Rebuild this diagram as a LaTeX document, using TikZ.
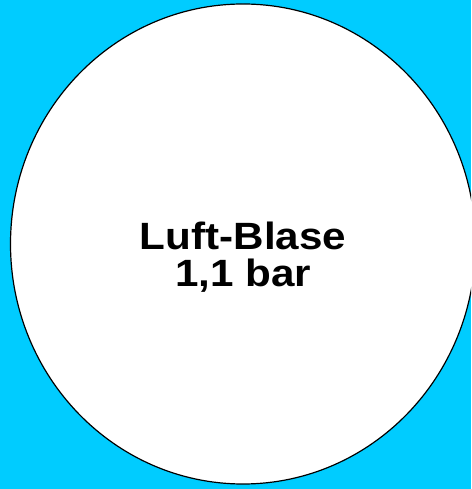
\documentclass[tikz,border=0pt]{standalone}
\usepackage{fontspec}
\setmainfont{Liberation Sans}
\usepackage{tikz}
\usetikzlibrary{positioning, calc}

\definecolor{wasser}{HTML}{00CCFF}

\begin{document}
\begin{tikzpicture}[x=1pt, y=1pt]
                % Hintergrund
                \useasboundingbox (0, 0) rectangle (471, 489);
                \fill[wasser] (0, 0) rectangle (471, 489);
                \clip (0, 0) rectangle (471, 489);

                % Blase
                \draw[black, fill=white, line width=1.2pt] (243, 245) ellipse (232.5 and 240);

                % Beschriftung
                \node[font=\bfseries\fontsize{38}{37}\selectfont, align=center, xscale=1.11] (blase) at (243, 232) {Luft-Blase\\1,1 bar};
            \end{tikzpicture}
\end{document}
